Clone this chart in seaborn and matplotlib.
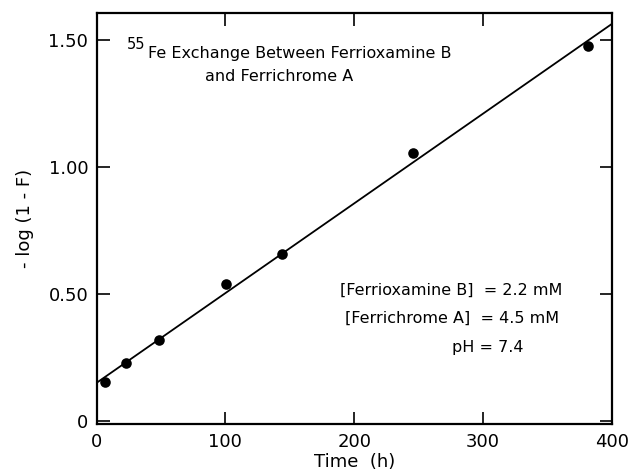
import matplotlib
matplotlib.use("Agg")
import matplotlib.pyplot as plt
import seaborn as sns
import pandas as pd

# Data
time_h = [6.8, 22.9, 48.8, 100.6, 143.8, 246.0, 381.2]
neg_log_1mF = [0.155, 0.229, 0.319, 0.539, 0.659, 1.055, 1.475]
fit_time = [0, 400]
fit_value = [0.151, 1.563]

x_ticks = [0, 100, 200, 300, 400]
x_tick_labels = ["0", "100", "200", "300", "400"]
y_ticks = [0, 0.5, 1.0, 1.5]
y_tick_labels = ["0", "0.50", "1.00", "1.50"]

title_sup = "55"
title_line1 = "Fe Exchange Between Ferrioxamine B"
title_line2 = "and Ferrichrome A"
cond1 = "[Ferrioxamine B]  = 2.2 mM"
cond2 = "[Ferrichrome A]  = 4.5 mM"
cond3 = "pH = 7.4"

sns.set_style("ticks")
plt.rcParams["font.family"] = ["DejaVu Sans"]
plt.rcParams.update({"text.color": "black", "axes.labelcolor": "black",
                     "xtick.color": "black", "ytick.color": "black",
                     "axes.edgecolor": "black"})

pts = pd.DataFrame({"t": time_h, "y": neg_log_1mF})
fit = pd.DataFrame({"t": fit_time, "y": fit_value})

fig = plt.figure(figsize=(6.32, 4.70), dpi=100)
ax = fig.add_axes([0.1527, 0.0972, 0.8153, 0.8745])

sns.lineplot(data=fit, x="t", y="y", ax=ax, color="black", linewidth=1.3)
sns.scatterplot(data=pts, x="t", y="y", ax=ax, color="black", s=58,
                edgecolor="black", linewidth=0, zorder=3)

ax.set_xlim(0, 400)
ax.set_ylim(-0.012, 1.605)
ax.set_xticks(x_ticks)
ax.set_xticklabels(x_tick_labels)
ax.set_yticks(y_ticks)
ax.set_yticklabels(y_tick_labels)
ax.tick_params(direction="in", length=9, width=1.2, labelsize=13,
               top=True, right=True, pad=6, colors="black")
for s in ax.spines.values():
    s.set_linewidth(1.6)
    s.set_color("black")
    s.set_visible(True)

ax.set_xlabel("Time  (h)", fontsize=13, labelpad=2)
ax.set_ylabel("- log (1 - F)", fontsize=13, labelpad=10)

fs = 11.5
ax.text(0.059, 0.923, title_sup, transform=ax.transAxes, fontsize=10.5,
        ha="left", va="center")
ax.text(0.100, 0.903, title_line1, transform=ax.transAxes, fontsize=fs,
        ha="left", va="center")
ax.text(0.2106, 0.847, title_line2, transform=ax.transAxes, fontsize=fs,
        ha="left", va="center")
ax.text(0.4725, 0.327, cond1, transform=ax.transAxes, fontsize=fs,
        ha="left", va="center")
ax.text(0.482, 0.259, cond2, transform=ax.transAxes, fontsize=fs,
        ha="left", va="center")
ax.text(0.69, 0.186, cond3, transform=ax.transAxes, fontsize=fs,
        ha="left", va="center")

fig.savefig("out.png", dpi=100)
